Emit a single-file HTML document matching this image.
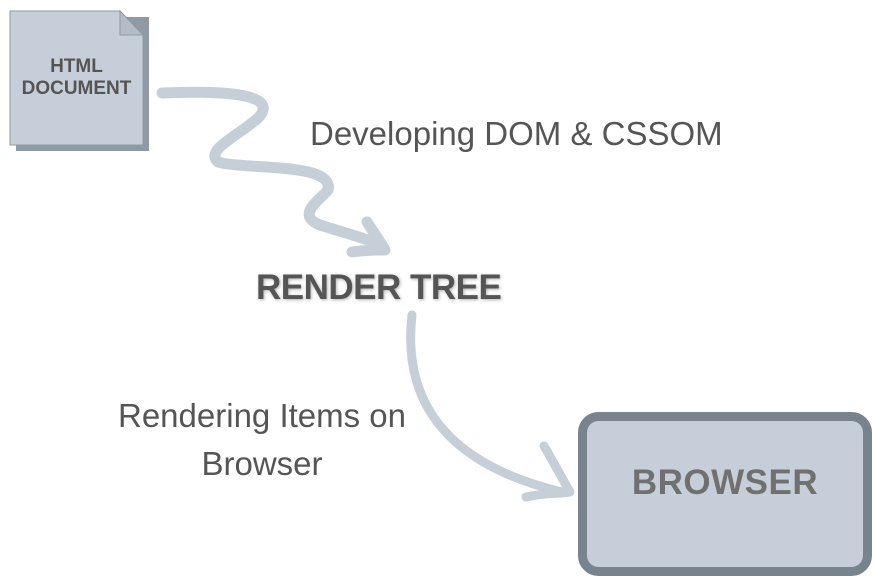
<!DOCTYPE html>
<html><head><style>
body{margin:0;width:875px;height:580px;background:#fff;overflow:hidden;position:relative;font-family:"Liberation Sans",sans-serif}
.t{position:absolute;color:#555;white-space:nowrap}
</style></head><body>
<svg width="875" height="580" style="position:absolute;left:0;top:0">
<polygon points="16,17 149,17 149,151 16,151" fill="#8f9aa5"/>
<polygon points="10,11 120,11 143,35 143,145 10,145" fill="#c6cfd9" stroke="#8f9aa5" stroke-width="1"/>
<polygon points="120,11 120,35 143,35" fill="#b3bdc8" stroke="#8f9aa5" stroke-width="1"/>
<g fill="none" stroke="#c6cfd8" stroke-width="11" stroke-linecap="round" stroke-linejoin="round">
<path d="M162,93 C230,90 280,95 258,118 C235,138 205,150 218,162 C245,170 335,162 328,190 C320,200 295,215 320,225 C345,233 365,238 378,244"/>
<path d="M352,252 C365,250 378,250 385,250 C378,238 372,230 367,222"/>
<path d="M412,315 C400,420 470,470 562,492" stroke-width="9"/>
<path d="M526,497 C542,493 557,494 570,492 C562,478 555,465 544,446" stroke-width="9"/>
</g>
<rect x="582.5" y="416.5" width="285" height="155" rx="16" fill="#c6cfd9" stroke="#77838d" stroke-width="9"/>
</svg>
<div class="t" style="top:56px;font-size:19px;font-weight:bold;line-height:22px;text-align:center;width:133px;left:10px">HTML<br>DOCUMENT</div>
<div class="t" style="left:310px;top:115px;font-size:33px;letter-spacing:0">Developing DOM &amp; CSSOM</div>
<div class="t" style="left:256px;top:268px;font-size:35px;font-weight:900;letter-spacing:-0.5px;text-shadow:1px 1px 3px rgba(0,0,0,.3)">RENDER TREE</div>
<div class="t" style="left:87px;top:392px;font-size:33px;text-align:center;width:350px;line-height:48px;white-space:normal">Rendering Items on Browser</div>
<div class="t" style="left:578px;top:463px;width:294px;text-align:center;font-size:35px;font-weight:bold;color:#707070;letter-spacing:0.5px">BROWSER</div>
</body></html>
